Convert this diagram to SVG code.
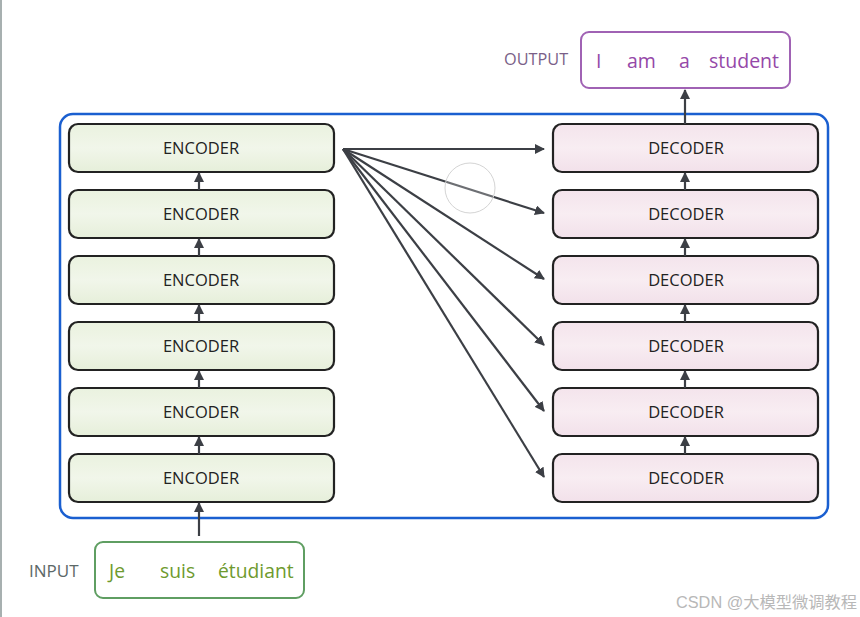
<svg xmlns="http://www.w3.org/2000/svg" width="860" height="617" viewBox="0 0 860 617">
<defs>
<linearGradient id="gEnc" x1="0" y1="0" x2="0" y2="1"><stop offset="0" stop-color="#eaf2df"/><stop offset="0.5" stop-color="#f1f6ea"/><stop offset="1" stop-color="#e6efda"/></linearGradient>
<linearGradient id="gDec" x1="0" y1="0" x2="0" y2="1"><stop offset="0" stop-color="#f4e4ec"/><stop offset="0.5" stop-color="#f8edf2"/><stop offset="1" stop-color="#f2e1ea"/></linearGradient>
<marker id="ah" viewBox="0 0 10 10" refX="9" refY="5" markerWidth="10" markerHeight="10" markerUnits="userSpaceOnUse" orient="auto"><path d="M0,0 L10,5 L0,10 Z" fill="#3c3f45"/></marker>
</defs>
<style>
.enc rect{fill:url(#gEnc);stroke:#222;stroke-width:2.2}
.dec rect{fill:url(#gDec);stroke:#222;stroke-width:2.2}
.lbl{font-family:"Open Sans","Noto Sans",sans-serif;font-size:16.5px;fill:#222;text-anchor:middle}
.con line{stroke:#3c3f45;stroke-width:2.2;marker-end:url(#ah)}
</style>
<rect width="860" height="617" fill="#ffffff"/>
<line x1="1" y1="0" x2="1" y2="617" stroke="#8a9696" stroke-width="1.5"/>
<rect id="container" x="60" y="114" width="768" height="404" rx="13" fill="none" stroke="#1a5fd0" stroke-width="2.5"/>
<g id="enc1" class="enc"><rect x="69" y="124" width="265" height="48" rx="9"/><text class="lbl" x="201" y="154">ENCODER</text></g>
<g id="enc2" class="enc"><rect x="69" y="190" width="265" height="48" rx="9"/><text class="lbl" x="201" y="220">ENCODER</text></g>
<g id="enc3" class="enc"><rect x="69" y="256" width="265" height="48" rx="9"/><text class="lbl" x="201" y="286">ENCODER</text></g>
<g id="enc4" class="enc"><rect x="69" y="322" width="265" height="48" rx="9"/><text class="lbl" x="201" y="352">ENCODER</text></g>
<g id="enc5" class="enc"><rect x="69" y="388" width="265" height="48" rx="9"/><text class="lbl" x="201" y="418">ENCODER</text></g>
<g id="enc6" class="enc"><rect x="69" y="454" width="265" height="48" rx="9"/><text class="lbl" x="201" y="484">ENCODER</text></g>
<g id="dec1" class="dec"><rect x="553" y="124" width="265" height="48" rx="9"/><text class="lbl" x="686" y="154">DECODER</text></g>
<g id="dec2" class="dec"><rect x="553" y="190" width="265" height="48" rx="9"/><text class="lbl" x="686" y="220">DECODER</text></g>
<g id="dec3" class="dec"><rect x="553" y="256" width="265" height="48" rx="9"/><text class="lbl" x="686" y="286">DECODER</text></g>
<g id="dec4" class="dec"><rect x="553" y="322" width="265" height="48" rx="9"/><text class="lbl" x="686" y="352">DECODER</text></g>
<g id="dec5" class="dec"><rect x="553" y="388" width="265" height="48" rx="9"/><text class="lbl" x="686" y="418">DECODER</text></g>
<g id="dec6" class="dec"><rect x="553" y="454" width="265" height="48" rx="9"/><text class="lbl" x="686" y="484">DECODER</text></g>
<g id="output">
<text x="504" y="65" font-family="Open Sans,Noto Sans,sans-serif" font-size="16.3" fill="#7a5f88">OUTPUT</text>
<rect x="581" y="32" width="209" height="56" rx="8" fill="#fff" stroke="#a062b4" stroke-width="2"/>
<text y="68" font-family="Open Sans,Noto Sans,sans-serif" font-size="19.5" fill="#9548a8"><tspan x="596">I</tspan><tspan x="627">am</tspan><tspan x="679">a</tspan><tspan x="709">student</tspan></text>
</g>
<g id="input">
<text x="29" y="577" font-family="Open Sans,Noto Sans,sans-serif" font-size="17" fill="#5c6868">INPUT</text>
<rect x="95" y="542" width="209" height="56" rx="8" fill="#fff" stroke="#5f9e62" stroke-width="2"/>
<text y="578" font-family="Open Sans,Noto Sans,sans-serif" font-size="19.3" fill="#6e9a2e"><tspan x="109">Je</tspan><tspan x="160">suis</tspan><tspan x="218">étudiant</tspan></text>
</g>
<g id="connectors" class="con">
<line x1="199" y1="536" x2="199" y2="503"/>
<line x1="199" y1="454" x2="199" y2="437"/>
<line x1="199" y1="388" x2="199" y2="371"/>
<line x1="199" y1="322" x2="199" y2="305"/>
<line x1="199" y1="256" x2="199" y2="239"/>
<line x1="199" y1="190" x2="199" y2="173"/>
<line x1="685" y1="454" x2="685" y2="437"/>
<line x1="685" y1="388" x2="685" y2="371"/>
<line x1="685" y1="322" x2="685" y2="305"/>
<line x1="685" y1="256" x2="685" y2="239"/>
<line x1="685" y1="190" x2="685" y2="173"/>
<line x1="685" y1="124" x2="685" y2="90"/>
<line x1="343" y1="149" x2="544" y2="149"/>
<line x1="343" y1="149" x2="544" y2="213"/>
<line x1="343" y1="149" x2="544" y2="279"/>
<line x1="343" y1="149" x2="544" y2="345"/>
<line x1="343" y1="149" x2="544" y2="411"/>
<line x1="343" y1="149" x2="544" y2="477"/>
</g>
<circle cx="470" cy="188" r="25" fill="#ffffff" fill-opacity="0.25" stroke="#d4d4d4" stroke-width="1"/>
<text x="676" y="608" font-family="Liberation Sans,Noto Sans CJK SC,sans-serif" font-size="16.3" fill="#b8b8b8">CSDN @大模型微调教程</text>
</svg>
